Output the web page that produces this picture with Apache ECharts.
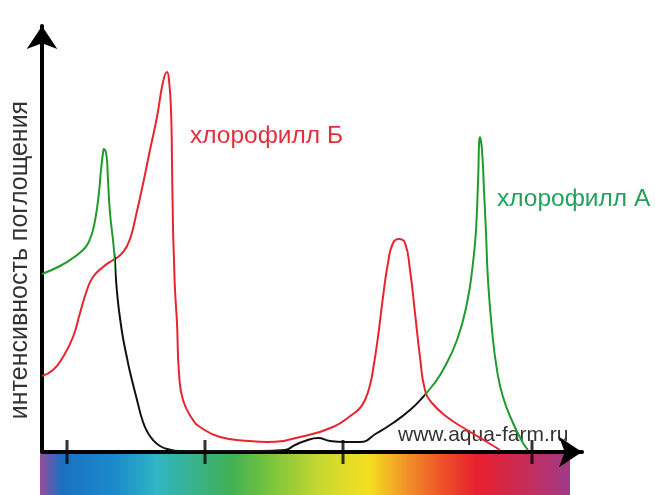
<!DOCTYPE html>
<html>
<head>
<meta charset="utf-8">
<script src="https://cdn.jsdelivr.net/npm/echarts@6/dist/echarts.min.js"></script>
<style>html,body{margin:0;padding:0;background:#fff}#c{width:655px;height:495px}</style>
</head>
<body>
<div id="c"></div>
<script>
// Data (x: position along spectrum, y: absorption intensity, arbitrary units)
var chlA_x = [0,18,31,41,45,48,51,54,57,59,61,62,63,64,65,66,68,71,72,73,74,76,78,81,85,88,95,101,106,111,118,125,138,178,218,243,253,263,276,288,303,318,335,351,368,381,391,401,415,425,431,434,436,438,440,442,444,446,450,455,461,471,481,486];
var chlA_y = [178,186,194,202,207,213,222,237,260,282,299,303,302,299,292,272,239,212,202,190,172,150,134,114,94,80,52,30,19,12,6,3,1,1,1,2,7,11,14,11,10,10,19,29,42,55,67,82,112,149,189,222,269,315,302,262,219,172,122,82,55,29,9,2];
var chlB_x = [0,11,21,31,38,45,51,61,71,76,81,85,89,93,101,108,115,121,125,127,129,130,131,132,133,135,137,141,151,158,178,208,225,258,291,311,318,323,328,331,336,341,346,351,357,363,368,373,378,383,390,405,425,445,458];
var chlB_y = [76,82,95,115,139,162,175,185,192,195,200,206,216,232,268,302,335,370,380,372,342,292,225,192,162,129,79,52,32,25,15,11,10,15,25,38,44,52,67,82,115,155,189,209,213,209,182,139,95,62,49,35,22,10,2];
var tickValues = [25,163,301,490];
var labelA = 'хлорофилл А';
var labelB = 'хлорофилл Б';
var yTitle = 'интенсивность поглощения';
var watermark = 'www.aqua-farm.ru';

function pairs(xs, ys){ return xs.map(function(x,i){ return [x, ys[i]]; }); }

var chart = echarts.init(document.getElementById('c'), null, {renderer:'canvas'});
var option = {
  animation: false,
  backgroundColor: '#fff',
  grid: {left: 42, right: 73, top: 26, bottom: 43},
  xAxis: {
    type: 'value', min: 0, max: 540,
    axisLine: {show: true, lineStyle: {color: '#000', width: 4}, symbol: ['none','arrow'], symbolSize: [23, 23]},
    axisTick: {show: false}, axisLabel: {show: false}, splitLine: {show: false}
  },
  yAxis: {
    type: 'value', min: 0, max: 426,
    axisLine: {show: true, lineStyle: {color: '#000', width: 4}, symbol: ['none','arrow'], symbolSize: [23, 23]},
    axisTick: {show: false}, axisLabel: {show: false}, splitLine: {show: false}
  },
  visualMap: {
    show: false, type: 'piecewise', seriesIndex: 0, dimension: 0,
    pieces: [
      {lt: 73, color: '#1f9a2c'},
      {gte: 73, lt: 383, color: '#111111'},
      {gte: 383, color: '#1f9a2c'}
    ]
  },
  graphic: [
    {
      type: 'rect', z: -10, silent: true,
      shape: {x: 40, y: 454, width: 530, height: 41},
      style: {
        fill: new echarts.graphic.LinearGradient(0, 0, 1, 0, [
          {offset: 0.00, color: '#9a4a9a'},
          {offset: 0.04, color: '#1a70c0'},
          {offset: 0.14, color: '#1a8acb'},
          {offset: 0.22, color: '#30b5c5'},
          {offset: 0.36, color: '#40b055'},
          {offset: 0.42, color: '#6ec040'},
          {offset: 0.53, color: '#c8d830'},
          {offset: 0.62, color: '#f5e020'},
          {offset: 0.70, color: '#f08a28'},
          {offset: 0.76, color: '#ee5028'},
          {offset: 0.825, color: '#e8202e'},
          {offset: 0.90, color: '#cc2a50'},
          {offset: 1.00, color: '#a03a88'}
        ])
      }
    },
    {
      type: 'text', x: 20, y: 260, rotation: Math.PI / 2,
      style: {text: yTitle, fill: '#333', font: '25px Arial, "Liberation Sans", sans-serif', textAlign: 'center', textVerticalAlign: 'middle'}
    },
    {
      type: 'text', x: 190, y: 136,
      style: {text: labelB, fill: '#e0303c', font: '24.5px Arial, "Liberation Sans", sans-serif', textAlign: 'left', textVerticalAlign: 'middle'}
    },
    {
      type: 'text', x: 497, y: 199,
      style: {text: labelA, fill: '#23a05a', font: '24.5px Arial, "Liberation Sans", sans-serif', textAlign: 'left', textVerticalAlign: 'middle'}
    },
    {
      type: 'text', x: 398, y: 435,
      style: {text: watermark, fill: '#333', font: '21px Arial, "Liberation Sans", sans-serif', textAlign: 'left', textVerticalAlign: 'middle'}
    }
  ],
  series: [
    {
      name: labelA, type: 'line', data: pairs(chlA_x, chlA_y),
      smooth: 0.5, showSymbol: false, symbol: 'none',
      lineStyle: {width: 2}, z: 3
    },
    {
      name: labelB, type: 'line', data: pairs(chlB_x, chlB_y),
      smooth: 0.5, showSymbol: false, symbol: 'none',
      lineStyle: {width: 2, color: '#e8242e'}, itemStyle: {color: '#e8242e'}, z: 2
    },
    {
      name: 'ticks', type: 'scatter', clip: false,
      data: tickValues.map(function(v){ return [v, 0]; }),
      symbol: 'rect', symbolSize: [3, 24],
      itemStyle: {color: '#000'}, z: 5, silent: true
    }
  ]
};
chart.setOption(option);
</script>
</body>
</html>
